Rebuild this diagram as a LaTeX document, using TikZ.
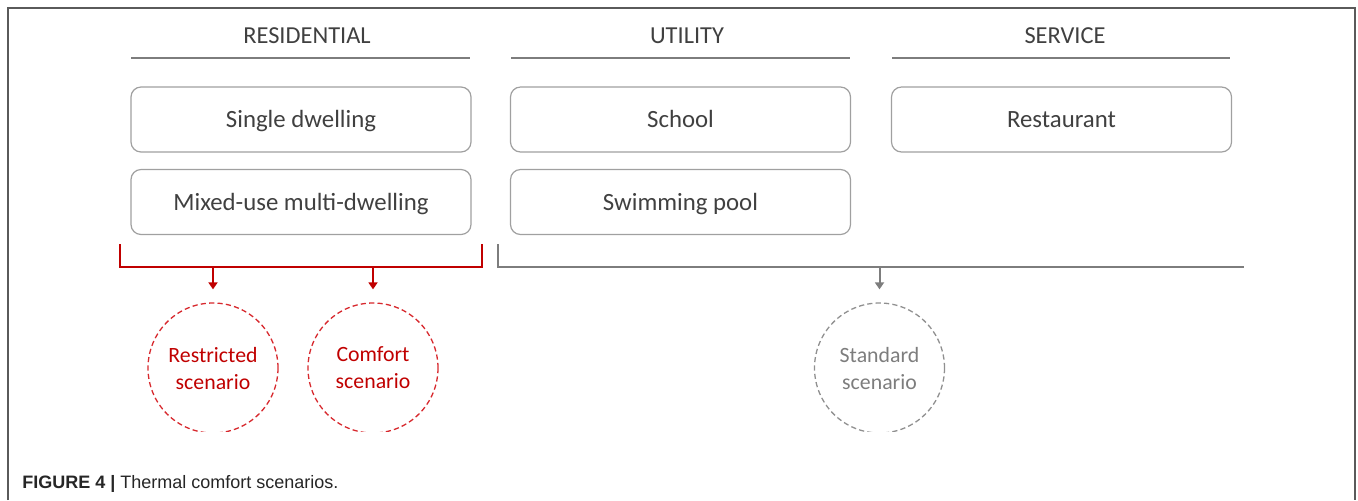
\documentclass[tikz,border=0pt]{standalone}
\usepackage{fontspec}
\setmainfont{Carlito}
\newfontfamily\capfont{Liberation Sans}
\usetikzlibrary{arrows.meta}

\definecolor{scenred}{RGB}{192,0,0}
\definecolor{dashred}{RGB}{215,40,45}
\definecolor{linegray}{RGB}{125,125,125}
\definecolor{boxgray}{RGB}{160,160,160}
\definecolor{textgray}{RGB}{64,64,64}
\definecolor{framegray}{RGB}{90,90,90}

\tikzset{
  usebox/.style={draw=boxgray, line width=0.6pt, rounded corners=5pt,
    minimum width=170pt, minimum height=32.5pt, text=textgray,
    text height=0.86em, text depth=0.06em,
    font=\fontsize{12.4}{15}\selectfont},
  header/.style={text=textgray, text height=0.86em, text depth=0.06em,
    font=\fontsize{12.2}{15}\selectfont},
  headline/.style={draw=linegray, line width=1pt},
  scenario/.style={circle, dashed, dash pattern=on 2.6pt off 1.6pt,
    line width=0.65pt, minimum size=65pt, inner sep=0pt, align=center,
    font=\fontsize{10.9}{13.5}\selectfont},
  bracket/.style={line width=1pt},
}

\begin{document}
\begin{tikzpicture}[x=0.5pt, y=-0.5pt]
    \useasboundingbox (0,0) rectangle (1358,500);

    % frame
    \draw[framegray, line width=1pt] (8,500) -- (8,8) -- (1355,8) -- (1355,500);

    % categories
    \node[header] (resid) at (307,35) {RESIDENTIAL};
    \node[header] (util) at (687,35) {UTILITY};
    \node[header] (serv) at (1065,35) {SERVICE};

    \draw[headline] (131,58) -- (470,58);
    \draw[headline] (511,58) -- (850,58);
    \draw[headline] (892,58) -- (1230,58);

    % building types
    \node[usebox] (single) at (301,119.5) {Single dwelling};
    \node[usebox] (mixed) at (301,202) {Mixed-use multi-dwelling};
    \node[usebox] (school) at (680.5,119.5) {School};
    \node[usebox] (pool) at (680.5,202) {Swimming pool};
    \node[usebox] (rest) at (1061.5,119.5) {Restaurant};

    % scenarios (cut at the bottom)
    \begin{scope}
        \clip (0,0) rectangle (1358,431);
        \node[scenario, draw=dashred, text=scenred] (restricted) at (213,368) {Restricted\\scenario};
        \node[scenario, draw=dashred, text=scenred] (comfort) at (373,368) {Comfort\\scenario};
        \node[scenario, draw=linegray!85, text=linegray] (standard) at (879.5,368) {Standard\\scenario};
    \end{scope}

    % brackets
    \coordinate (RL) at (120,244);
    \coordinate (RR) at (482,244);
    \coordinate (GL) at (498,244);
    \coordinate (GR) at (1244,267);

    \draw[bracket, scenred] (RL) |- (RR |- 0,267) -- (RR);
    \draw[bracket, linegray] (GL) |- (GR);

    \draw[bracket, scenred, ->, >={Triangle[length=3.5pt,width=4.5pt]}, shorten >=6.5pt]
        (restricted.north |- 0,267) -- (restricted.north);
    \draw[bracket, scenred, ->, >={Triangle[length=3.5pt,width=4.5pt]}, shorten >=6.5pt]
        (comfort.north |- 0,267) -- (comfort.north);
    \draw[bracket, linegray, ->, >={Triangle[length=3.5pt,width=4.5pt]}, shorten >=6.5pt]
        (standard.north |- GR) -- (standard.north);

    % caption
    \node[anchor=base west, inner sep=0pt, text=black!85, font=\capfont\fontsize{9}{11}\selectfont] (caption)
        at (22,488) {\textbf{FIGURE 4 |} Thermal comfort scenarios.};
\end{tikzpicture}
\end{document}
